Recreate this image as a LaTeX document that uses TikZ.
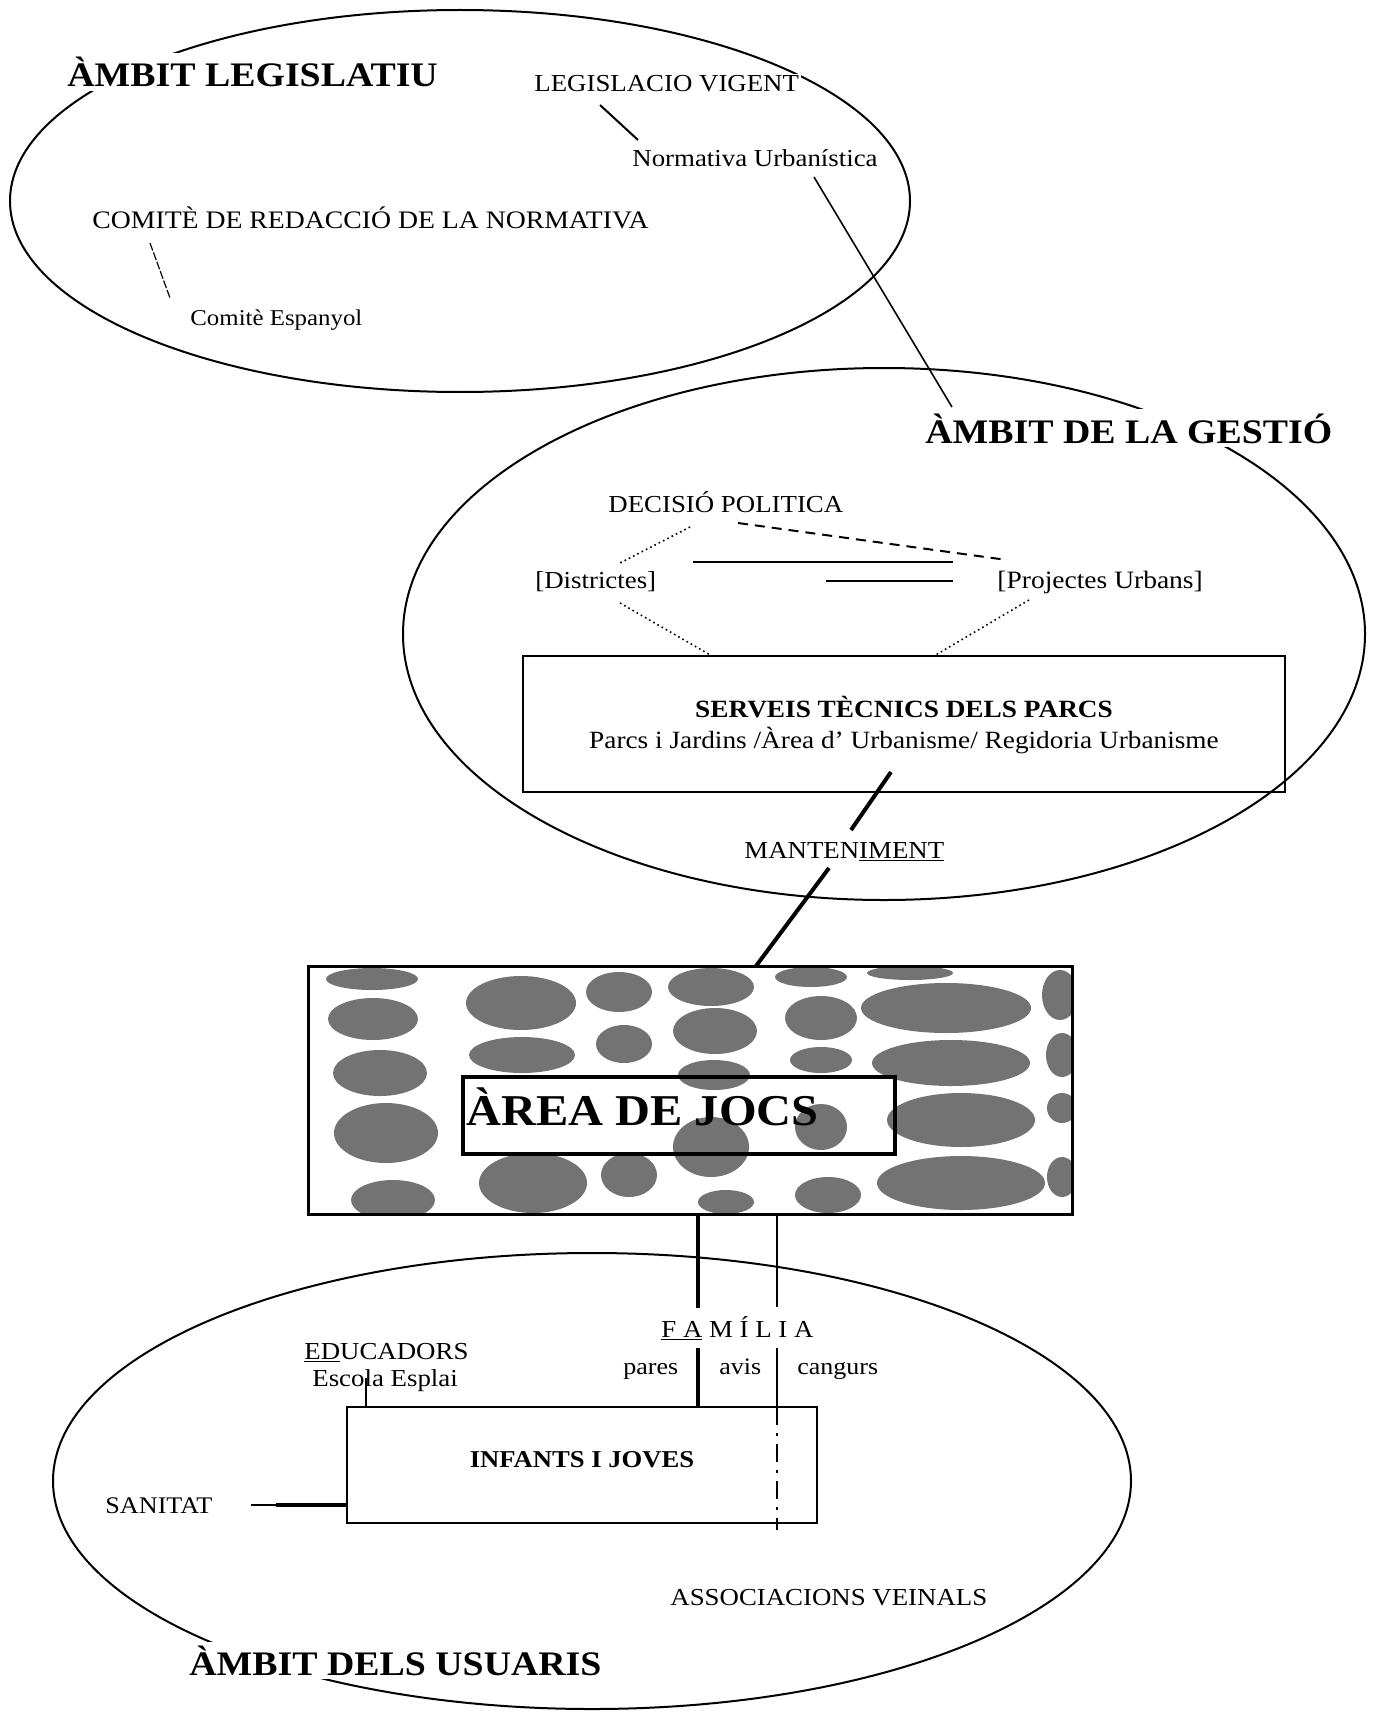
\documentclass[tikz,border=0pt]{standalone}
\usepackage{fontspec}
\setmainfont{Liberation Serif}
\usepackage{graphicx}
\newcommand{\hs}[1]{\scalebox{1.1}[1]{#1}}
\begin{document}
\begin{tikzpicture}[x=0.5pt,y=-0.5pt,
  ell/.style={draw=black,line width=1pt},
  txt/.style={inner sep=0pt,anchor=base west,font=\fontsize{12.2pt}{14pt}\selectfont},
  ctxt/.style={txt,anchor=base},
  title/.style={anchor=base west,fill=white,inner sep=2pt,font=\bfseries\fontsize{17.2pt}{20pt}\selectfont},
  boxn/.style={draw=black,line width=1pt,inner sep=0pt,outer sep=0pt},
  blob/.style={fill=black!55},
  lnk/.style={line width=1pt},
  thick link/.style={line width=2pt},
  dotlink/.style={line width=0.8pt,dash pattern=on 0.8pt off 1.6pt},
  dashlink/.style={line width=1pt,dash pattern=on 5pt off 3.5pt},
  fine dash/.style={line width=0.6pt,dash pattern=on 4pt off 1pt}
]
\useasboundingbox (0,0) rectangle (1372,1712);
\fill[white] (0,0) rectangle (1372,1712);

% ---------- ellipses ----------
\draw[ell] (460,201) ellipse [x radius=450, y radius=191];
\draw[ell] (884,634) ellipse [x radius=481, y radius=266];
\draw[ell] (592,1481) ellipse [x radius=539, y radius=228];

% ---------- ambit legislatiu ----------
\node[title] (tleg) at (63,87) {\hs{ÀMBIT LEGISLATIU}};
\node[txt,fill=white,inner sep=1pt] (legvig) at (532,92) {\hs{LEGISLACIO VIGENT}};
\node[txt] (normat) at (632,167) {\hs{Normativa Urbanística}};
\node[txt,font=\fontsize{12.6pt}{14pt}\selectfont] (comite) at (92,228) {\hs{COMITÈ DE REDACCIÓ DE LA NORMATIVA}};
\node[txt,font=\fontsize{11.3pt}{13pt}\selectfont] (comesp) at (190,325) {\hs{Comitè Espanyol}};

\coordinate (lvA) at (600,105); \coordinate (lvB) at (638,140);
\draw[lnk] (lvA) -- (lvB);
\coordinate (cmA) at (150,243); \coordinate (cmB) at (170,298);
\draw[fine dash] (cmA) -- (cmB);
\coordinate (nuA) at (814,177); \coordinate (nuB) at (952,407);
\draw[line width=0.8pt] (nuA) -- (nuB);

% ---------- ambit de la gestio ----------
\node[title] (tges) at (921,443) {\hs{ÀMBIT DE LA GESTIÓ}};
\node[txt] (decisio) at (608,512) {\hs{DECISIÓ POLITICA}};
\node[txt] (distr) at (535,588) {\hs{[Districtes]}};
\node[txt,font=\fontsize{12.5pt}{14pt}\selectfont] (proj) at (997,588) {\hs{[Projectes Urbans]}};

\node[boxn,minimum width=381pt,minimum height=68pt] (serveis) at (904,724) {};
\node[ctxt,font=\bfseries\fontsize{12.4pt}{14pt}\selectfont] (servT) at (904,717) {\hs{SERVEIS TÈCNICS DELS PARCS}};
\node[ctxt,font=\fontsize{12.4pt}{14pt}\selectfont] (servS) at (904,748) {\hs{Parcs i Jardins /Àrea d' Urbanisme/ Regidoria Urbanisme}};

\node[txt] (mant) at (744,858) {\hs{MANTEN\underline{IMENT}}};

\coordinate (dpA) at (690,527); \coordinate (dpB) at (620,563);
\draw[dotlink] (dpA) -- (dpB);
\coordinate (dqA) at (738,523); \coordinate (dqB) at (1007,560);
\draw[dashlink] (dqA) -- (dqB);
\coordinate (s1A) at (693,562); \coordinate (s1B) at (953,562);
\draw[lnk] (s1A) -- (s1B);
\coordinate (s2A) at (826,581); \coordinate (s2B) at (953,581);
\draw[lnk] (s2A) -- (s2B);
\coordinate (dsA) at (620,603); \coordinate (dsB) at (712,656);
\draw[dotlink] (dsA) -- (dsB);
\coordinate (psA) at (1029,600); \coordinate (psB) at (934,656);
\draw[dotlink] (psA) -- (psB);
\coordinate (smA) at (891,772); \coordinate (smB) at (851,830);
\draw[thick link] (smA) -- (smB);
\coordinate (maA) at (829,868); \coordinate (maB) at (756,966);
\draw[thick link] (maA) -- (maB);

% ---------- area de jocs ----------
\begin{scope}
\clip (308,966) rectangle (1072,1214);
\foreach \bx/\by/\ba/\bb in {
 372/979/46/11, 373/1019/45/21, 380/1073/47/23, 386/1133/52/30, 393/1200/42/20,
 521/1003/55/27, 522/1055/53/18, 533/1183/54/30,
 619/992/33/20, 624/1044/28/19, 629/1175/28/22,
 711/987/43/19, 715/1031/42/23, 714/1075/36/15, 711/1147/38/30, 726/1202/28/12,
 811/977/36/10, 821/1018/36/22, 821/1060/31/13, 821/1127/26/23, 828/1195/33/18,
 910/973/43/7, 946/1008/85/25, 951/1063/79/23, 961/1120/74/27, 961/1183/84/27,
 1060/995/18/25, 1062/1055/16/22, 1062/1108/15/15, 1062/1177/15/20}
  \fill[blob] (\bx,\by) ellipse [x radius=\ba, y radius=\bb];
\end{scope}
\node[boxn,line width=1.5pt,minimum width=382pt,minimum height=124pt] (area) at (690,1090) {};
\node[boxn,line width=1.8pt,minimum width=216pt,minimum height=38.5pt] (areain) at (679,1115.5) {};
\node[txt,font=\bfseries\fontsize{22pt}{24pt}\selectfont] (areaT) at (466,1125) {\hs{ÀREA DE JOCS}};

% ---------- ambit dels usuaris ----------
\node[title] (tusu) at (185,1675) {\hs{ÀMBIT DELS USUARIS}};
\node[txt] (fam) at (661,1337) {\hs{\underline{F A} M Í L I A}};
\node[txt,font=\fontsize{11.8pt}{13pt}\selectfont] (pares) at (623,1374) {\hs{pares}};
\node[txt,font=\fontsize{11.8pt}{13pt}\selectfont] (avis) at (719,1374) {\hs{avis}};
\node[txt,font=\fontsize{11.8pt}{13pt}\selectfont] (cang) at (797,1374) {\hs{cangurs}};
\node[txt] (educ) at (304,1359) {\hs{\underline{ED}UCADORS}};
\node[txt] (escola) at (312,1386) {\hs{Escola Esplai}};
\node[boxn,minimum width=235pt,minimum height=58pt] (infants) at (582,1465) {};
\node[ctxt,font=\bfseries\fontsize{12.1pt}{14pt}\selectfont] (infT) at (582,1467) {\hs{INFANTS I JOVES}};
\node[txt,font=\fontsize{11.9pt}{14pt}\selectfont] (sanitat) at (105,1513) {\hs{SANITAT}};
\node[txt] (assoc) at (670,1605) {\hs{ASSOCIACIONS VEINALS}};

\coordinate (v1A) at (698,1214); \coordinate (v1B) at (698,1308);
\coordinate (v1C) at (698,1348); \coordinate (v1D) at (698,1407);
\draw[thick link] (v1A) -- (v1B);
\draw[thick link] (v1C) -- (v1D);
\coordinate (v2A) at (777,1214); \coordinate (v2B) at (777,1307);
\coordinate (v2C) at (777,1348); \coordinate (v2D) at (777,1407);
\coordinate (v2E) at (777,1530);
\draw[line width=0.8pt] (v2A) -- (v2B);
\draw[line width=0.8pt] (v2C) -- (v2D);
\draw[line width=0.8pt,dash pattern=on 9pt off 4pt on 1.5pt off 4pt] (v2D) -- (v2E);
\coordinate (edA) at (366,1378); \coordinate (edB) at (366,1407);
\draw[lnk] (edA) -- (edB);
\coordinate (saA) at (251,1505); \coordinate (saM) at (276,1505); \coordinate (saB) at (347,1505);
\draw[lnk] (saA) -- (saM);
\draw[line width=2pt] (saM) -- (saB);
\end{tikzpicture}
\end{document}
